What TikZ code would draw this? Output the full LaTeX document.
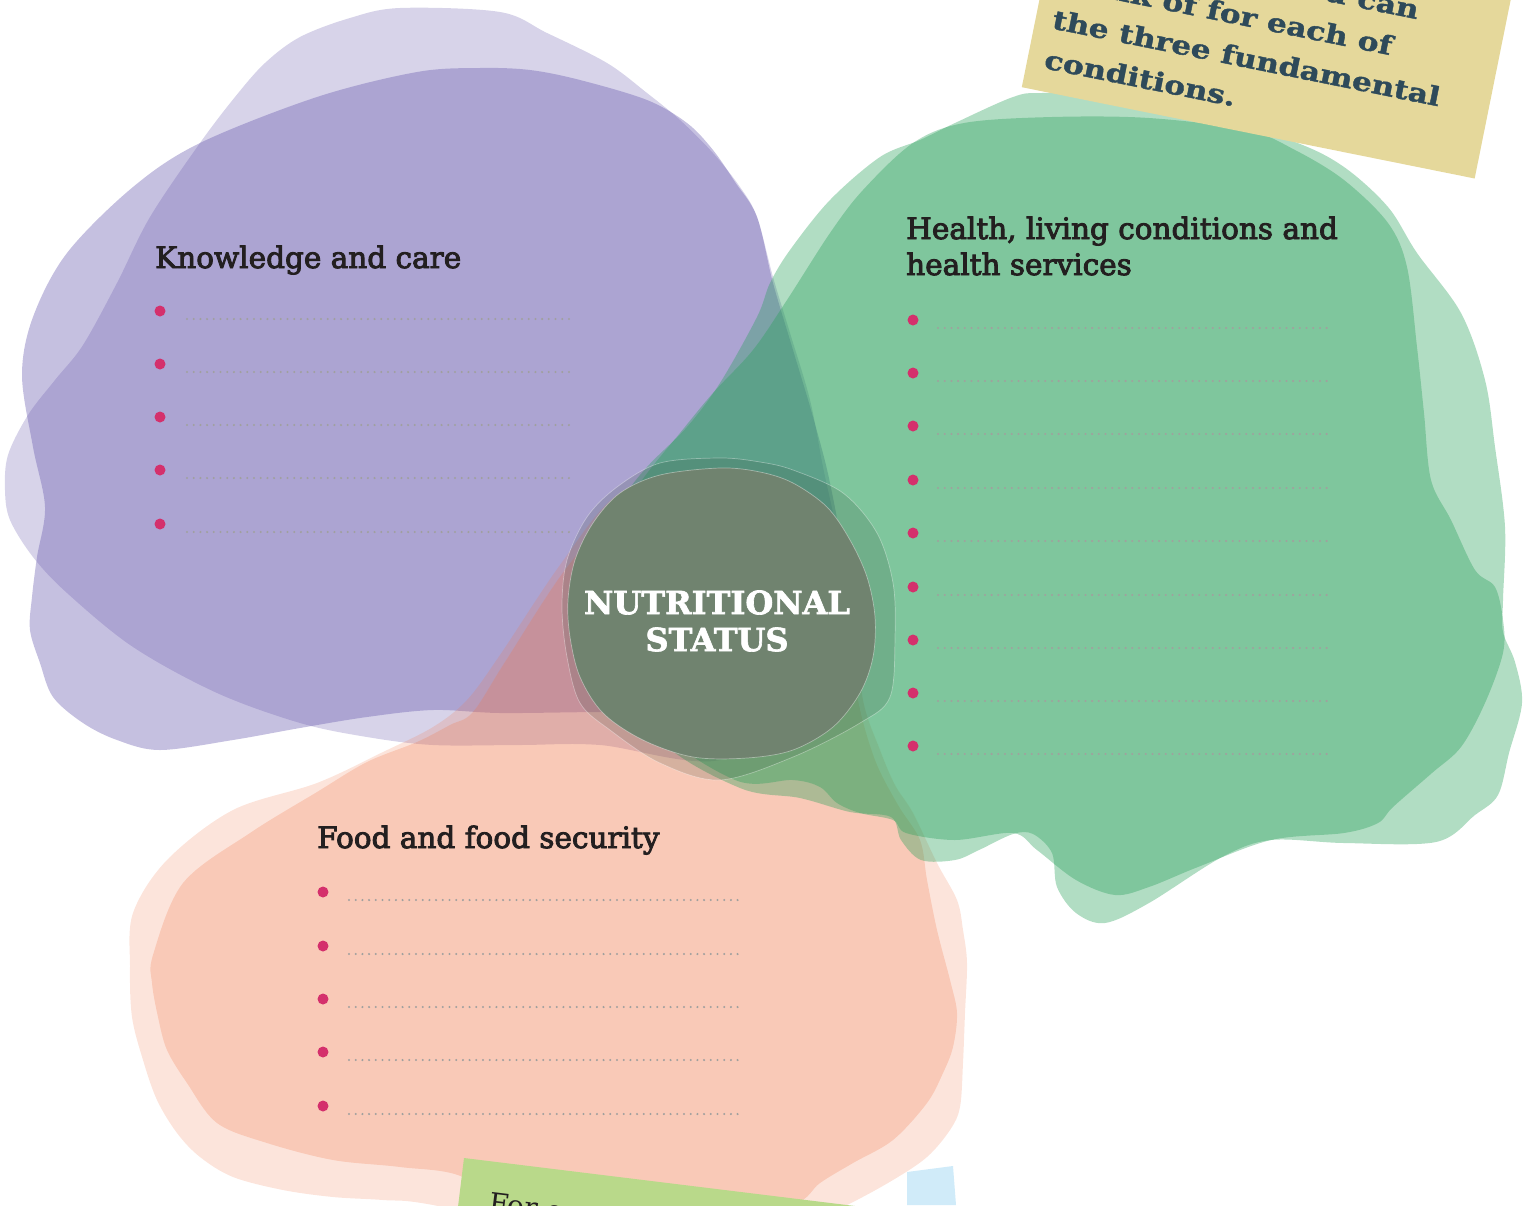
\documentclass[tikz,border=0pt]{standalone}
\usepackage{fontspec}
\setmainfont{DejaVu Serif}
\newfontfamily\headfont{DejaVu Serif}[FakeBold=3]
\newfontfamily\notefam{DejaVu Serif}[FakeStretch=1.2,BoldFeatures={FakeBold=1.5}]
\newfontfamily\heavyfont{DejaVu Serif}[BoldFeatures={FakeBold=2}]
\definecolor{purplebase}{RGB}{99,84,171}
\definecolor{peachbase}{RGB}{240,120,75}
\definecolor{greenbase}{RGB}{40,160,90}
\definecolor{centrecol}{RGB}{112,131,111}
\definecolor{ringcol}{RGB}{50,70,55}
\definecolor{bulletcol}{RGB}{212,48,108}
\definecolor{dotcol}{RGB}{160,160,158}
\definecolor{headcol}{RGB}{35,31,32}
\definecolor{notecol}{RGB}{229,216,155}
\definecolor{notetext}{RGB}{46,74,90}
\definecolor{greennote}{RGB}{185,217,138}
\definecolor{bluenote}{RGB}{208,235,249}
\tikzset{
  heading/.style={anchor=base west,inner sep=0pt,text=headcol,font=\headfont\fontsize{29.5}{34}\selectfont},
  bullet/.style={circle,fill=bulletcol,inner sep=0pt,minimum size=11pt},
  writeline/.style={draw=dotcol,line width=2.3pt,line cap=round,dash pattern=on 0pt off 6.7pt},
  notefont/.style={inner sep=0pt,text=notetext,font=\notefam\fontsize{26}{30}\selectfont\bfseries},
  blobline/.style={smooth cycle,tension=0.55},
}
\begin{document}
\begin{tikzpicture}[x=1pt,y=-1pt]
\useasboundingbox (0,0) rectangle (1523,1205);
\clip (0,0) rectangle (1523,1205);
%% knowledge and care
\fill[purplebase,fill opacity=0.26] plot[blobline] coordinates {(400,8) (500,12) (547,33) (607,63) (647,93) (680,120) (713,153) (740,187) (757,217) (773,277) (790,333) (810,400) (823,467) (838,540) (845,620) (810,700) (720,760) (600,745) (520,745) (433,745) (367,737) (300,723) (217,693) (133,647) (67,593) (33,557) (10,520) (5,490) (8,455) (28,415) (55,380) (83,345) (117,283) (150,217) (200,143) (235,97) (265,63) (300,37) (350,18)};
\fill[purplebase,fill opacity=0.37] plot[blobline] coordinates {(480,68) (530,70) (580,80) (647,100) (687,123) (713,150) (735,182) (757,217) (773,283) (793,350) (813,417) (830,483) (842,560) (835,640) (780,695) (700,712) (600,712) (500,713) (433,710) (367,717) (300,728) (233,740) (160,750) (117,740) (83,723) (53,697) (40,663) (30,630) (32,597) (37,557) (45,507) (33,447) (22,375) (33,317) (67,253) (133,187) (200,143) (317,97) (417,72)};
%% food and food security
\fill[peachbase,fill opacity=0.2] plot[blobline] coordinates {(167,860) (233,810) (317,783) (383,752) (433,727) (467,700) (500,655) (560,565) (617,495) (690,470) (770,480) (830,540) (855,620) (863,700) (880,750) (895,785) (913,813) (937,863) (957,900) (963,930) (967,963) (965,1013) (963,1063) (960,1107) (950,1130) (927,1157) (893,1180) (847,1205) (790,1230) (600,1240) (433,1205) (383,1200) (333,1197) (283,1190) (233,1177) (200,1157) (177,1133) (157,1100) (143,1060) (132,1017) (130,967) (133,913)};
\fill[peachbase,fill opacity=0.25] plot[blobline] coordinates {(183,883) (250,833) (317,792) (367,762) (417,742) (450,725) (473,712) (505,662) (565,570) (622,508) (690,485) (765,492) (825,550) (850,630) (858,700) (875,760) (898,805) (920,840) (927,880) (937,930) (950,980) (957,1013) (953,1047) (943,1073) (927,1103) (893,1140) (853,1163) (820,1183) (793,1205) (700,1230) (520,1220) (463,1177) (400,1167) (333,1160) (267,1143) (217,1123) (187,1083) (167,1050) (158,1017) (152,983) (153,955)};
%% health
\fill[greenbase,fill opacity=0.36] plot[blobline] coordinates {(955,123) (1013,97) (1042,93) (1120,95) (1200,112) (1295,142) (1344,167) (1388,207) (1417,253) (1461,313) (1485,380) (1495,447) (1505,527) (1503,600) (1503,632) (1515,662) (1522,703) (1509,753) (1498,795) (1475,815) (1436,842) (1344,843) (1271,840) (1222,857) (1149,903) (1105,923) (1076,913) (1057,887) (1052,853) (1033,834) (1013,834) (979,850) (955,860) (921,860) (901,840) (891,817) (850,812) (800,798) (740,788) (660,740) (605,650) (600,560) (623,500) (647,467) (687,427) (720,383) (757,317) (770,283) (790,250) (830,200) (880,157) (920,140)};
\fill[greenbase,fill opacity=0.37] plot[blobline] coordinates {(964,123) (1052,117) (1149,118) (1247,130) (1295,150) (1344,180) (1388,223) (1407,267) (1417,347) (1424,413) (1431,480) (1451,520) (1475,570) (1495,587) (1503,620) (1503,653) (1485,703) (1461,747) (1432,773) (1393,807) (1378,823) (1344,833) (1271,840) (1198,867) (1149,887) (1115,895) (1076,880) (1037,850) (1013,833) (955,840) (906,833) (893,820) (860,813) (837,803) (820,787) (793,780) (735,780) (650,720) (610,620) (615,530) (640,483) (680,433) (713,393) (753,350) (787,300) (830,233) (863,190) (913,143)};
%% nutritional status
\filldraw[fill=ringcol,fill opacity=0.18,draw=white,draw opacity=0.35,line width=0.7pt] plot[blobline] coordinates {(720,458) (760,462) (793,470) (843,493) (877,533) (893,583) (895,637) (890,697) (860,723) (793,757) (720,780) (660,763) (610,730) (580,703) (567,657) (562,607) (567,560) (587,517) (617,487) (660,463)};
\filldraw[fill=centrecol,draw=white,draw opacity=0.4,line width=0.7pt] plot[blobline] coordinates {(720,468) (760,472) (793,483) (827,507) (850,540) (867,577) (875,617) (873,657) (860,693) (833,727) (793,750) (747,758) (693,757) (643,740) (603,713) (580,677) (570,637) (568,600) (575,560) (593,523) (620,493) (660,475)};
\node[align=center,text=white,font=\heavyfont\fontsize{32}{37}\selectfont\bfseries] (status) at (717,621) {NUTRITIONAL\\STATUS};
%% headings and write-in lines
\node[heading] (head_kc) at (155,268) {Knowledge and care};
\node[heading] (head_hl) at (906,239) {Health, living conditions and};
\node[heading] (head_hs) at (906,275) {health services};
\node[heading] (head_ff) at (317,848) {Food and food security};
\foreach \i/\yy in {1/311,2/364,3/417,4/470,5/524} {
  \node[bullet] (kc_\i) at (160,\yy) {};
  \draw[writeline] ([shift={(27,8)}]kc_\i.center) -- ++(388,0);
}
\foreach \i/\yy in {1/320,2/373,3/426,4/480,5/533,6/587,7/640,8/693,9/746} {
  \node[bullet] (hl_\i) at (913,\yy) {};
  \draw[writeline] ([shift={(25,8)}]hl_\i.center) -- ++(390,0);
}
\foreach \i/\yy in {1/892,2/946,3/999,4/1052,5/1106} {
  \node[bullet] (ff_\i) at (323,\yy) {};
  \draw[writeline] ([shift={(26,8)}]ff_\i.center) -- ++(389,0);
}
%% notes
\begin{scope}[shift={(1043,68)},rotate=-11.4,transform shape]
  \fill[notecol] (-17,-320) rectangle (445,23);
  \node[notefont,anchor=base west] (note_4) at (0,0) {conditions.};
  \node[notefont,anchor=base west] (note_3) at (0,-40.6) {the three fundamental};
  \node[notefont,anchor=base west] (note_2) at (0,-81.2) {think of for each of};
  \node[notefont,anchor=base east] (note_1) at (357,-121.8) {you can};
\end{scope}
\begin{scope}[shift={(464,1158)},rotate=-7,transform shape]
  \fill[greennote] (0,0) rectangle (700,200);
  \node[inner sep=0pt,anchor=base west,text=headcol,font=\fontsize{28}{32}\selectfont] (note_ex) at (31,51) {For example};
\end{scope}
\fill[bluenote] (907,1172) -- (953,1166) -- (956,1205) -- (907,1205) -- cycle;
%
\end{tikzpicture}
\end{document}
